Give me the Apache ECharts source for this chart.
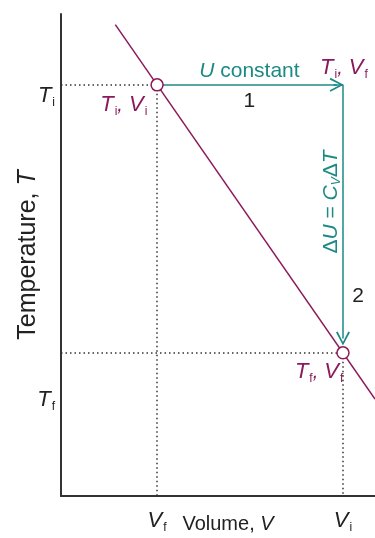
<!DOCTYPE html>
<html>
<head>
<meta charset="utf-8">
<script src="https://cdn.jsdelivr.net/npm/echarts@6/dist/echarts.min.js"></script>
<style>
  html, body { margin: 0; padding: 0; background: #fff; }
  #chart { width: 375px; height: 538px; }
</style>
</head>
<body>
<div id="chart"></div>
<script>
// state values (axis units 0..10)
const Vf = 3.06, Vi = 8.98
const Ti = 8.53, Tf = 2.97
// the purple process line
const lineData = [[1.73, 9.78], [10, 2.01]]
// state points
const statePoints = [[Vf, Ti], [Vi, Tf]]
// tick labels
const xTickValues = [Vf, Vi]
const xTickLabels = ['{t|V}{s|f}', '{t|V}{s|i}']
const yTickValues = [2.0, 8.3]
const yTickLabels = ['{t|T}{s|f}', '{t|T}{s|i}']
// annotation text anchors
const annotations = [
  { value: [6.0, 8.82], text: '{ti|U}{tn| constant}', color: '#1b8a84' },
  { value: [6.0, 8.19], text: '{n|1}', color: '#222' },
  { value: [9.01, 8.88], text: '{t|T}{s|i}{c|,}{t| V}{s|f}', color: '#8b1a5c' },
  { value: [2.0, 8.11], text: '{t|T}{s|i}{c|,}{t| V}{s|i}', color: '#8b1a5c' },
  { value: [8.22, 2.57], text: '{t|T}{s|f}{c|,}{t| V}{s|f}', color: '#8b1a5c' },
  { value: [9.46, 4.15], text: '{n|2}', color: '#222' }
]
const rotatedNote = { value: [8.6, 6.1], text: '{tn|Δ}{ti|U}{tn| = }{ti|C}{ts|V}{tn|Δ}{ti|T}' }

const purple = '#8b1a5c'
const teal = '#1b8a84'
const font = 'Liberation Sans, Arial, sans-serif'

const richText = (color) => ({
  t: { fontFamily: font, fontStyle: 'italic', fontSize: 22, color: color, lineHeight: 26 },
  c: { fontFamily: font, fontStyle: 'italic', fontSize: 20, color: color, lineHeight: 26 },
  s: { fontFamily: font, fontSize: 12, color: color, verticalAlign: 'bottom', lineHeight: 12, padding: [0, 0, 0, 1] },
  ti: { fontFamily: font, fontStyle: 'italic', fontSize: 21, color: color, lineHeight: 24 },
  tn: { fontFamily: font, fontSize: 21, color: color, lineHeight: 24 },
  ts: { fontFamily: font, fontStyle: 'italic', fontSize: 12, color: color, verticalAlign: 'bottom', lineHeight: 12 },
  n: { fontFamily: font, fontSize: 21, color: color, lineHeight: 24 }
})

const chart = echarts.init(document.getElementById('chart'))

const arrowHead = 'path://M0,10 L5,0 L10,10 L8.8,10.6 L5,2.6 L1.2,10.6 Z'

const option = {
  animation: false,
  grid: { left: 61, right: 0, top: 14, bottom: 42, outerBoundsMode: 'none', containLabel: false },
  xAxis: {
    type: 'value',
    min: 0,
    max: 10,
    axisLine: { show: true, lineStyle: { color: '#333', width: 2 } },
    axisTick: { show: false },
    splitLine: { show: false },
    axisLabel: {
      customValues: xTickValues,
      margin: 12,
      formatter: (v) => xTickLabels[xTickValues.indexOf(v)],
      rich: richText('#222')
    },
    name: '{n|Volume, }{i|V}',
    nameLocation: 'middle',
    nameGap: 18,
    nameMoveOverlap: false,
    nameTextStyle: {
      padding: [0, 0, 0, 20],
      rich: {
        n: { fontFamily: font, fontSize: 20, color: '#222' },
        i: { fontFamily: font, fontSize: 20, fontStyle: 'italic', color: '#222' }
      }
    }
  },
  yAxis: {
    type: 'value',
    min: 0,
    max: 10,
    axisLine: { show: true, lineStyle: { color: '#333', width: 2 } },
    axisTick: { show: false },
    splitLine: { show: false },
    axisLabel: {
      customValues: yTickValues,
      margin: 6,
      formatter: (v) => yTickLabels[yTickValues.indexOf(v)],
      rich: richText('#222')
    },
    name: '{n|Temperature, }{i|T}',
    nameLocation: 'middle',
    nameGap: 20,
    nameMoveOverlap: false,
    nameTextStyle: {
      rich: {
        n: { fontFamily: font, fontSize: 25, color: '#222' },
        i: { fontFamily: font, fontSize: 25, fontStyle: 'italic', color: '#222' }
      }
    }
  },
  series: [
    {
      // dotted guides
      type: 'lines',
      coordinateSystem: 'cartesian2d',
      silent: true,
      z: 1,
      lineStyle: { color: '#333', width: 1.5, type: [1.5, 3], opacity: 1 },
      data: [
        { coords: [[0, Ti], [Vf, Ti]] },
        { coords: [[Vf, Ti], [Vf, 0]] },
        { coords: [[0, Tf], [Vi, Tf]] },
        { coords: [[Vi, Tf], [Vi, 0]] }
      ]
    },
    {
      type: 'line',
      data: lineData,
      symbol: 'none',
      z: 2,
      lineStyle: { color: purple, width: 1.5 }
    },
    {
      // process arrows
      type: 'lines',
      coordinateSystem: 'cartesian2d',
      silent: true,
      z: 3,
      symbol: ['none', arrowHead],
      symbolSize: [13, 14],
      lineStyle: { color: teal, width: 1.5, opacity: 1 },
      data: [
        { coords: [[Vf, Ti], [Vi - 0.2, Ti]] },
        { coords: [[Vi, Ti], [Vi, Tf + 0.3]] }
      ]
    },
    {
      // connector to arrow corner
      type: 'lines',
      coordinateSystem: 'cartesian2d',
      silent: true,
      z: 3,
      lineStyle: { color: teal, width: 1.5, opacity: 1 },
      data: [{ coords: [[Vi - 0.3, Ti], [Vi, Ti]] }]
    },
    {
      type: 'scatter',
      data: statePoints,
      symbol: 'circle',
      symbolSize: 12,
      z: 5,
      itemStyle: { color: '#fff', borderColor: purple, borderWidth: 1.5, opacity: 1 }
    },
    {
      // text annotations
      type: 'scatter',
      silent: true,
      symbolSize: 0,
      z: 6,
      itemStyle: { opacity: 1 },
      data: annotations.map(a => ({
        value: a.value,
        label: {
          show: true,
          position: 'inside',
          formatter: a.text,
          rich: richText(a.color)
        }
      }))
    },
    {
      type: 'scatter',
      silent: true,
      symbolSize: 0,
      z: 6,
      itemStyle: { opacity: 1 },
      data: [{
        value: rotatedNote.value,
        label: {
          show: true,
          position: 'inside',
          rotate: 90,
          formatter: rotatedNote.text,
          rich: richText(teal)
        }
      }]
    }
  ]
}

chart.setOption(option)
window.addEventListener('resize', () => chart.resize())
</script>
</body>
</html>
